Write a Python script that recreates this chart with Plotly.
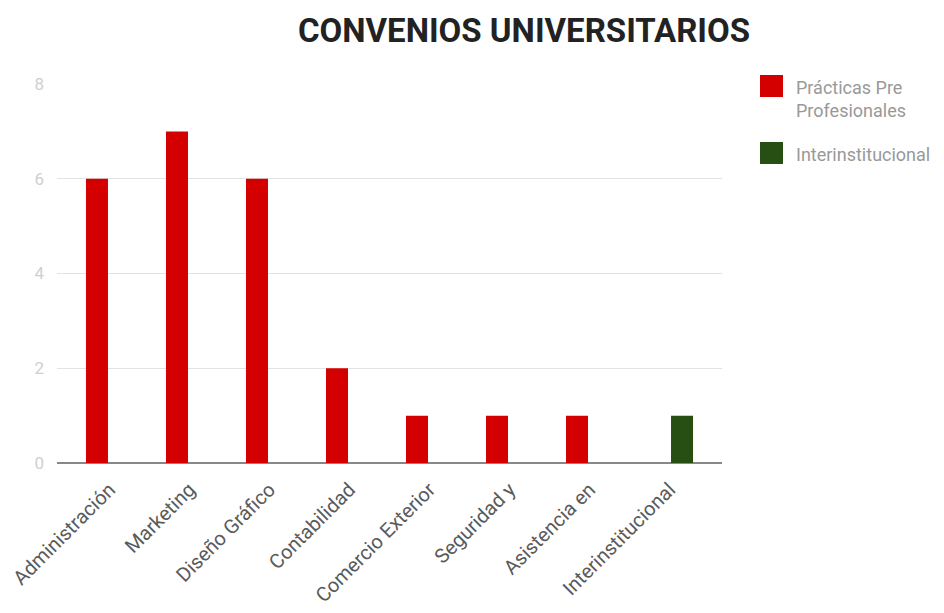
import plotly.graph_objects as go

categories = ["Administración", "Marketing", "Diseño Gráfico", "Contabilidad",
              "Comercio Exterior", "Seguridad y", "Asistencia en", "Interinstitucional"]
practicas = [6, 7, 6, 2, 1, 1, 1, None]
interinst = [None, None, None, None, None, None, None, 1]
series_names = ["Prácticas Pre<br>Profesionales", "Interinstitucional"]
series_colors = ["#d40000", "#274e13"]
y_ticks = [0, 2, 4, 6, 8]

W, H = 936, 605
ML, MR, MT, MB = 49, 222, 76, 150
PW, PH = W - ML - MR, H - MT - MB


def px_x(fx):
    return (fx - ML) / PW


def px_y(fy):
    return (H - MB - fy) / PH


fig = go.Figure()
fig.add_trace(go.Bar(x=categories, y=practicas, name=series_names[0],
                     marker=dict(color=series_colors[0], line=dict(width=0))))
fig.add_trace(go.Bar(x=categories, y=interinst, name=series_names[1],
                     marker=dict(color=series_colors[1], line=dict(width=0))))

# manual legend (large swatches like the reference)
legend_rows = [(67, 79), (134, 146)]  # (swatch top px, text centre px)
shapes, annotations = [], []
for (top, tc), name, col in zip(legend_rows, series_names, series_colors):
    shapes.append(dict(type="rect", xref="paper", yref="paper",
                       x0=px_x(752), x1=px_x(775), y0=px_y(top + 22), y1=px_y(top),
                       fillcolor=col, line=dict(width=0)))
    annotations.append(dict(text=name, xref="paper", yref="paper",
                            x=px_x(786), y=px_y(tc - 12), xanchor="left", yanchor="top",
                            align="left", showarrow=False,
                            font=dict(family="Roboto", size=18, color="#999999")))

fig.update_layout(
    width=W, height=H,
    margin=dict(l=ML, r=MR, t=MT, b=MB, autoexpand=False),
    paper_bgcolor="white", plot_bgcolor="white",
    barmode="group", bargap=0.375, bargroupgap=0.12,
    showlegend=False,
    font=dict(family="Roboto", color="#444"),
    title=dict(text="<b>CONVENIOS UNIVERSITARIOS</b>", x=516 / W, xanchor="center",
               y=1 - 22.5 / H, yanchor="middle",
               font=dict(family="Roboto", size=33, color="#222")),
    shapes=shapes, annotations=annotations,
    xaxis=dict(range=[-0.656, 7.656], tickangle=-45, showgrid=False,
               showline=False, ticks="", automargin=False, ticklabelstandoff=10,
               tickfont=dict(size=20, color="#5a5a5a")),
    yaxis=dict(range=[0, 8], tickvals=y_ticks, showgrid=True, gridcolor="#e3e3e3",
               zeroline=True, zerolinecolor="#888", zerolinewidth=2, automargin=False,
               tickfont=dict(size=17, color="#cfcfcf"), ticklabelstandoff=12),
)

fig.write_html("out.html")
